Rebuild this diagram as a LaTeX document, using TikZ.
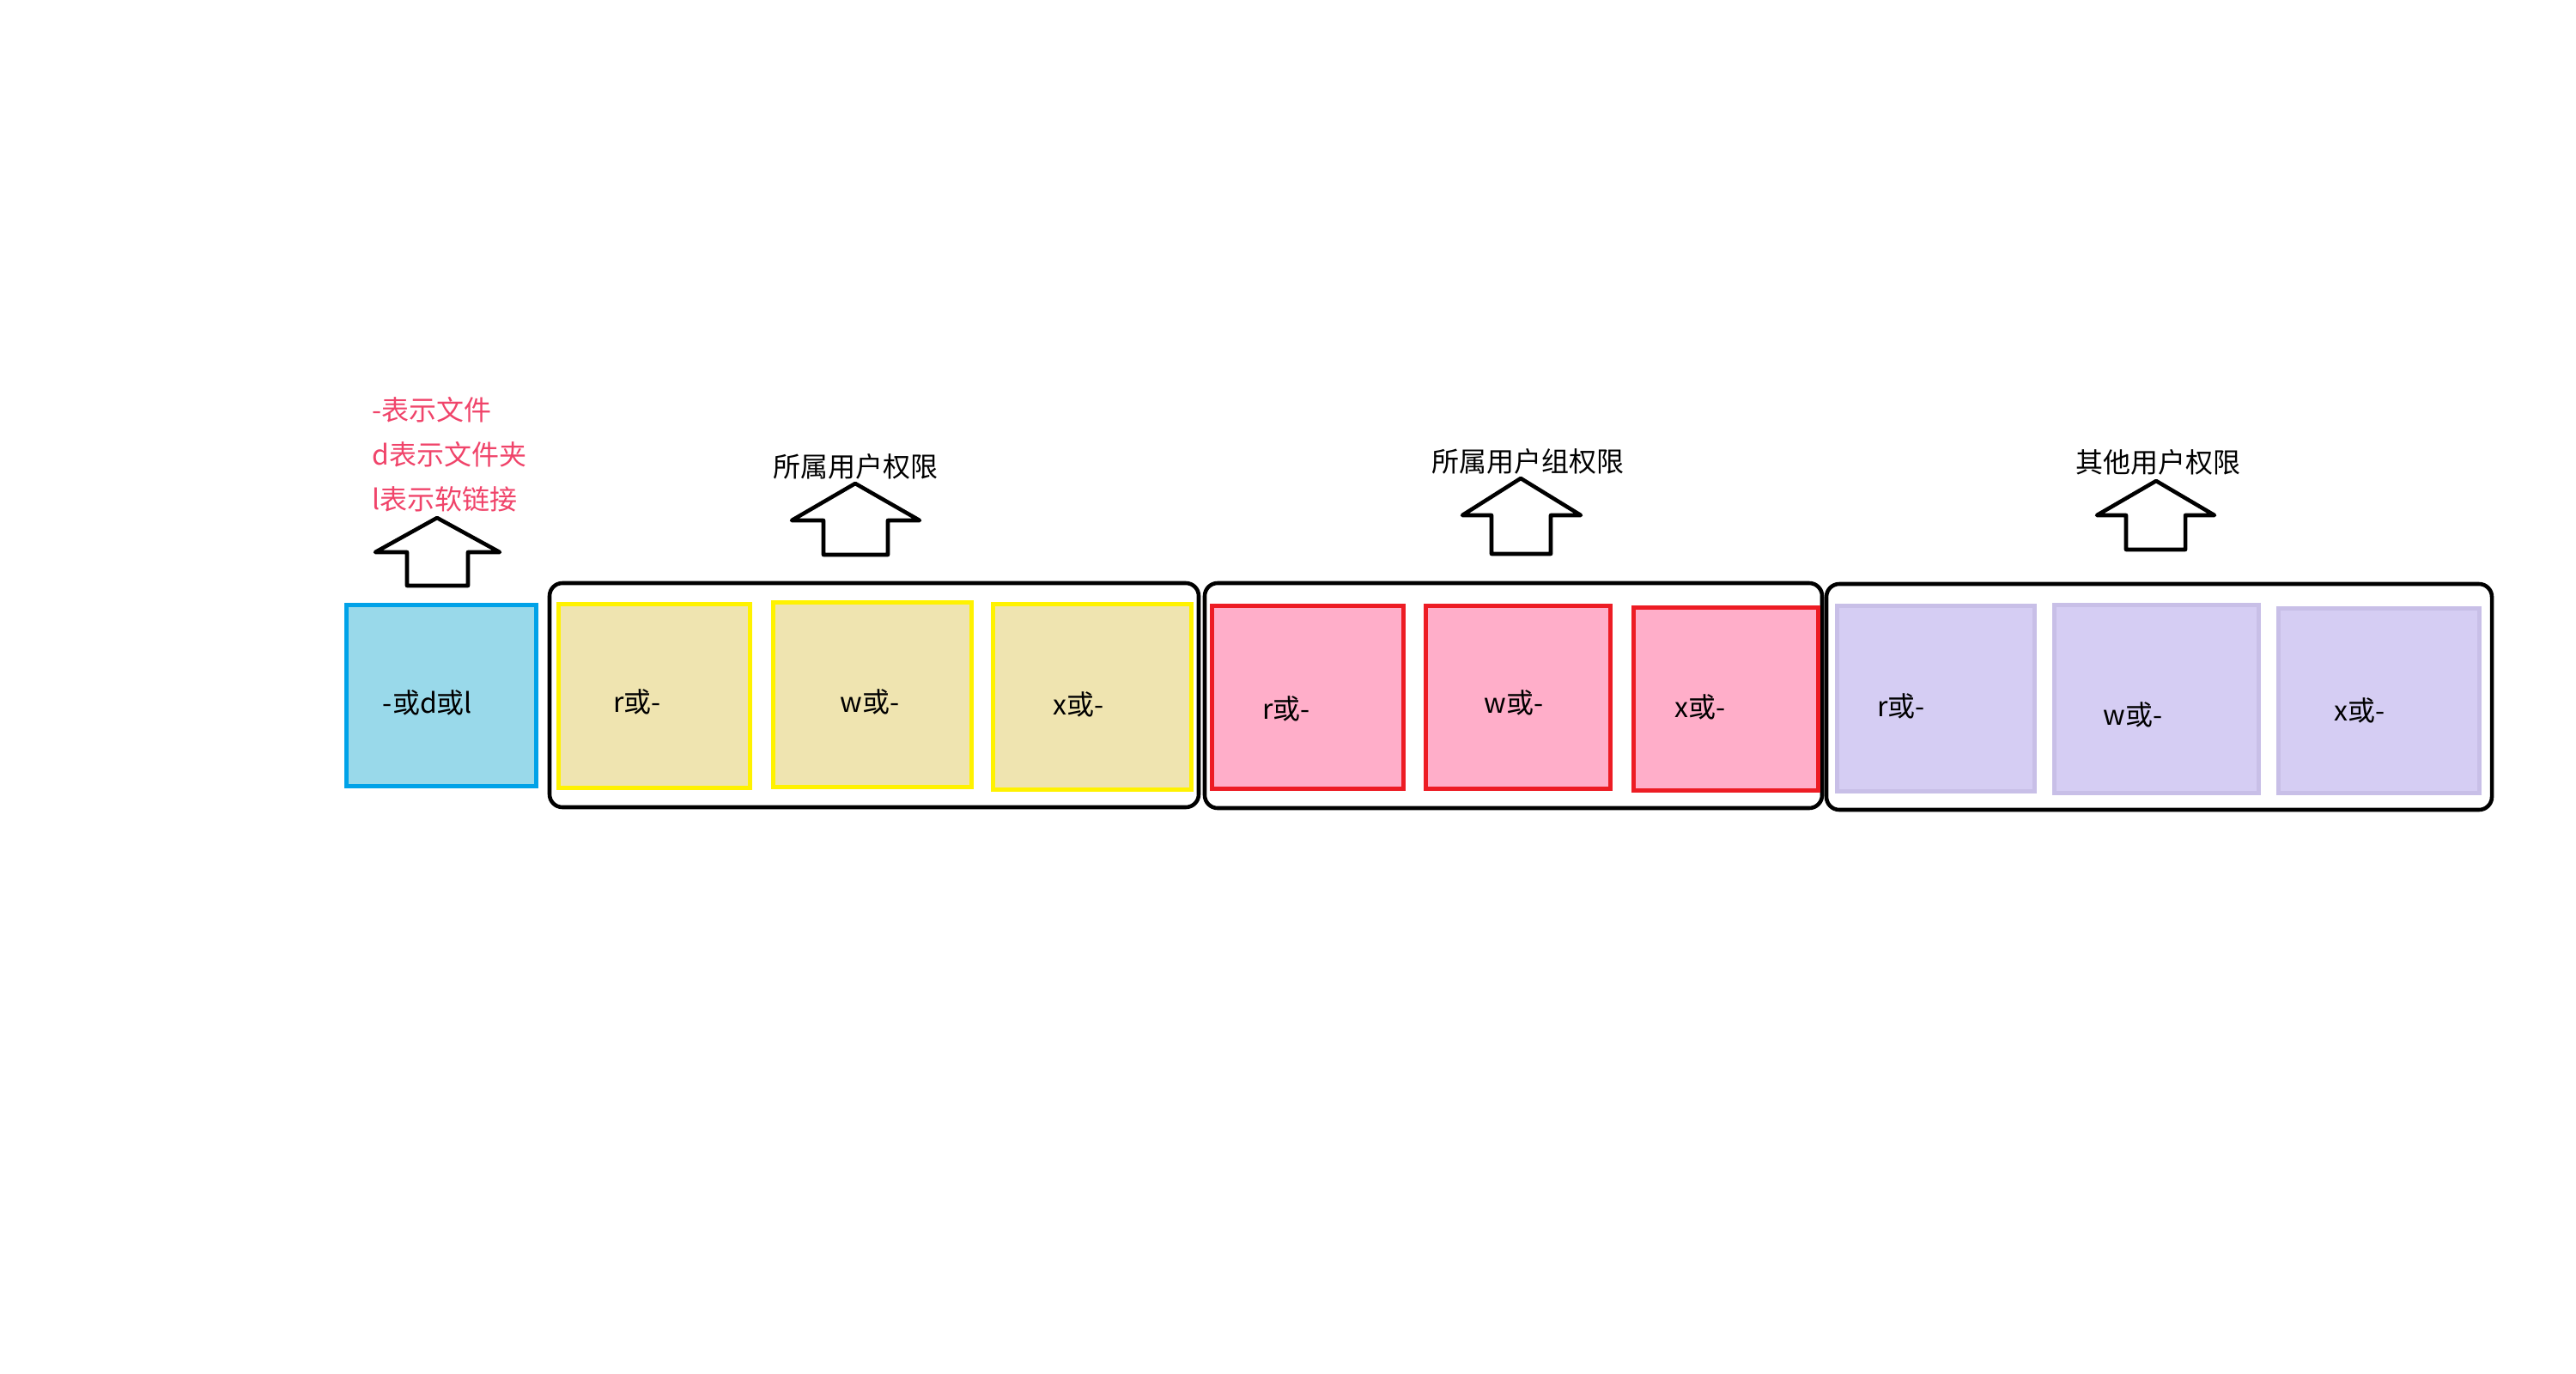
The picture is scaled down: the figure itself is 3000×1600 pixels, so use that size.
\documentclass[tikz,border=0pt]{standalone}
\usepackage{fontspec}
\setmainfont{Noto Sans CJK SC}
\usepackage{tikz}

\definecolor{skyfill}{RGB}{153,217,234}
\definecolor{skyline}{RGB}{0,162,232}
\definecolor{tanfill}{RGB}{239,228,176}
\definecolor{tanline}{RGB}{255,242,0}
\definecolor{rosefill}{RGB}{255,174,201}
\definecolor{roseline}{RGB}{237,28,36}
\definecolor{lilacfill}{RGB}{213,205,243}
\definecolor{lilacline}{RGB}{200,191,231}
\definecolor{notered}{RGB}{240,68,106}

\begin{document}
\begin{tikzpicture}[x=0.01cm,y=-0.01cm,
		txt/.style={font=\fontsize{9.1pt}{14.8pt}\selectfont, inner sep=0pt},
		cell/.style={line width=1.42pt},
		group/.style={line width=1.3pt, rounded corners=0.15cm},
		uparrow/.style={line width=1.3pt, line join=round}]
		\useasboundingbox[fill=white] (0,0) rectangle (3000,1600);
		% file type
		\draw[cell, draw=skyline, fill=skyfill] (403.5,704.5) rectangle (624.5,915.5);
		\node[txt] (kind) at (498,818) {-或d或l};
		\draw[uparrow] (509,603) -- (582,643) -- (545,643) -- (545,682) -- (474,682) -- (474,643) -- (437,643) -- cycle;
		\node[txt, text=notered, align=left, anchor=west] (kindnote) at (433,529) {-表示文件\\d表示文件夹\\l表示软链接};
		% owner
		\draw[group] (640,679) rectangle (1396,940);
		\draw[cell, draw=tanline, fill=tanfill] (650.5,703.5) rectangle (873.5,917.5);
		\draw[cell, draw=tanline, fill=tanfill] (900.5,701.5) rectangle (1131.5,916.5);
		\draw[cell, draw=tanline, fill=tanfill] (1156.5,703.5) rectangle (1387.5,919.5);
		\node[txt] (u-r) at (742,817) {r或-};
		\node[txt] (u-w) at (1013,817) {w或-};
		\node[txt] (u-x) at (1256,820) {x或-};
		\draw[uparrow] (996,563) -- (1071,606) -- (1034,606) -- (1034,646) -- (959,646) -- (959,606) -- (922,606) -- cycle;
		\node[txt] (owner) at (996,543) {所属用户权限};
		% group
		\draw[group] (1403,679) rectangle (2122,941);
		\draw[cell, draw=roseline, fill=rosefill] (1411.5,705.5) rectangle (1634.5,918.5);
		\draw[cell, draw=roseline, fill=rosefill] (1660.5,705.5) rectangle (1875.5,918.5);
		\draw[cell, draw=roseline, fill=rosefill] (1902.5,707.5) rectangle (2117.5,920.5);
		\node[txt] (g-r) at (1498,825) {r或-};
		\node[txt] (g-w) at (1763,818) {w或-};
		\node[txt] (g-x) at (1980,823) {x或-};
		\draw[uparrow] (1771,557) -- (1841,600) -- (1806,600) -- (1806,645) -- (1737,645) -- (1737,600) -- (1703,600) -- cycle;
		\node[txt] (grp) at (1779,537) {所属用户组权限};
		% others
		\draw[group] (2127,680) rectangle (2902,943);
		\draw[cell, draw=lilacline, fill=lilacfill] (2139.5,705.5) rectangle (2369.5,921.5);
		\draw[cell, draw=lilacline, fill=lilacfill] (2392.5,704.5) rectangle (2630.5,923.5);
		\draw[cell, draw=lilacline, fill=lilacfill] (2653.5,708.5) rectangle (2887.5,923.5);
		\node[txt] (o-r) at (2214,822) {r或-};
		\node[txt] (o-w) at (2484,832) {w或-};
		\node[txt] (o-x) at (2748,827) {x或-};
		\draw[uparrow] (2511,560) -- (2579,600) -- (2545,600) -- (2545,640) -- (2476,640) -- (2476,600) -- (2442,600) -- cycle;
		\node[txt] (other) at (2513,538) {其他用户权限};
	\end{tikzpicture}
\end{document}
